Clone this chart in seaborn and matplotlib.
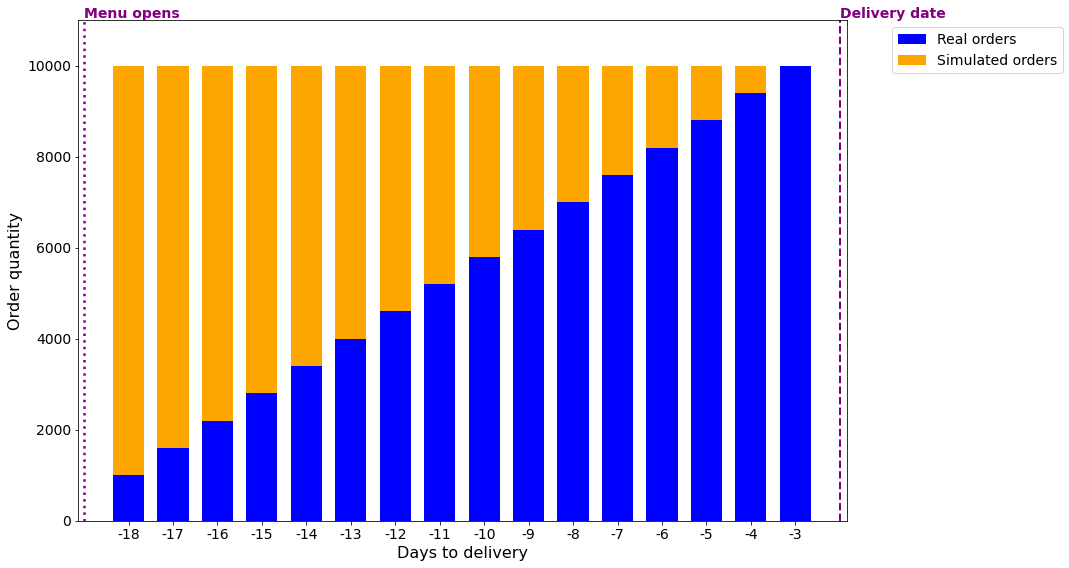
import pandas as pd
import matplotlib
matplotlib.use("Agg")
import matplotlib.pyplot as plt
import seaborn as sns

# Data
days = [-18, -17, -16, -15, -14, -13, -12, -11, -10, -9, -8, -7, -6, -5, -4, -3]
real_orders = [1000, 1600, 2200, 2800, 3400, 4000, 4600, 5200, 5800, 6400,
               7000, 7600, 8200, 8800, 9400, 10000]
total_orders = [10000] * len(days)

df = pd.DataFrame({
    'day': [str(d) for d in days],
    'real': real_orders,
    'total': total_orders,
})
df['simulated'] = df['total'] - df['real']

fig = plt.figure(figsize=(1069 / 72, 568 / 72), dpi=72)
ax = fig.add_axes([78.3 / 1069, 47 / 568, 768.4 / 1069, 501 / 568])

# stacked: draw the total in orange, real orders on top in blue
sns.barplot(data=df, x='day', y='total', color='orange', saturation=1,
            width=0.7, errorbar=None, label='Simulated orders', ax=ax)
sns.barplot(data=df, x='day', y='real', color='blue', saturation=1,
            width=0.7, errorbar=None, label='Real orders', ax=ax)

# menu opening and delivery date markers
ax.axvline(-1, color='purple', linestyle=':', linewidth=2.5)
ax.axvline(len(days), color='purple', linestyle='--', linewidth=2)
ax.text(-1, 0.998, 'Menu opens', transform=ax.get_xaxis_transform(),
        color='purple', fontsize=14, fontweight='bold', ha='left', va='bottom')
ax.text(len(days), 0.998, 'Delivery date', transform=ax.get_xaxis_transform(),
        color='purple', fontsize=14, fontweight='bold', ha='left', va='bottom')

ax.set_xlim(-1.13, len(days) + 0.156)
ax.set_ylim(0, 11000)
ax.set_xlabel('Days to delivery', fontsize=16)
ax.set_ylabel('Order quantity', fontsize=16)
ax.tick_params(labelsize=14)

handles, labels = ax.get_legend_handles_labels()
order = [labels.index('Real orders'), labels.index('Simulated orders')]
ax.legend([handles[i] for i in order], [labels[i] for i in order],
          loc='upper left', bbox_to_anchor=(1.05, 1), fontsize=14)

fig.savefig('out.png', dpi=72)
